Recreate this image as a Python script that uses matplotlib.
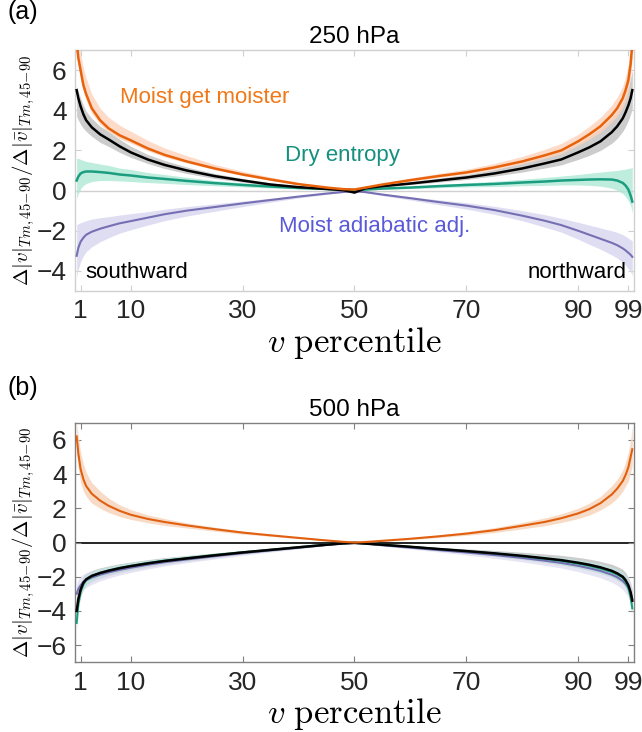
import numpy as np
import matplotlib
matplotlib.use("Agg")
import matplotlib.pyplot as plt

plt.rcParams['font.family'] = ['Liberation Sans', 'DejaVu Sans']
plt.rcParams['mathtext.fontset'] = 'cm'

# percentile grid shared by every curve
pct = [0.3, 0.6, 1, 1.5, 2, 3, 4.5, 6, 8, 10, 13, 16, 20, 25, 30, 35, 40, 45, 48, 50,
       52, 55, 60, 65, 70, 75, 80, 84, 87, 90, 92, 94, 96, 97, 98, 98.5, 99, 99.4, 99.7]

# ---- (a) 250 hPa ----
a_moist = [7.4, 6.6, 6.0, 5.25, 4.8, 4.1, 3.5, 3.1, 2.75, 2.5, 2.1, 1.78, 1.45, 1.1, 0.8, 0.55, 0.32, 0.15, 0.07, 0.05,
           0.15, 0.3, 0.52, 0.72, 0.9, 1.15, 1.45, 1.75, 2.0, 2.45, 2.8, 3.2, 3.75, 4.1, 4.6, 5.0, 5.5, 6.3, 7.3]
a_moist_hi = [8.0, 7.4, 6.8, 6.1, 5.6, 4.8, 4.1, 3.65, 3.25, 2.95, 2.5, 2.12, 1.74, 1.3, 0.96, 0.67, 0.4, 0.2, 0.11, 0.08,
              0.19, 0.36, 0.62, 0.85, 1.06, 1.35, 1.7, 2.05, 2.35, 2.8, 3.2, 3.65, 4.25, 4.65, 5.2, 5.7, 6.3, 7.2, 8.2]
a_moist_lo = [7.0, 6.2, 5.6, 4.95, 4.5, 3.85, 3.3, 2.92, 2.58, 2.35, 1.98, 1.68, 1.37, 1.04, 0.75, 0.51, 0.29, 0.13, 0.05, 0.03,
              0.12, 0.26, 0.46, 0.65, 0.82, 1.05, 1.33, 1.6, 1.84, 2.25, 2.55, 2.9, 3.4, 3.7, 4.15, 4.5, 4.95, 5.7, 6.6]

a_total = [5.0, 4.6, 4.2, 3.8, 3.5, 3.15, 2.8, 2.55, 2.2, 1.9, 1.55, 1.28, 1.0, 0.72, 0.5, 0.3, 0.17, 0.08, 0.02, -0.1,
           0.12, 0.22, 0.35, 0.5, 0.65, 0.85, 1.1, 1.35, 1.55, 1.9, 2.15, 2.45, 2.9, 3.2, 3.6, 3.9, 4.25, 4.6, 5.0]
a_total_hi = [5.2, 4.9, 4.6, 4.25, 3.95, 3.6, 3.2, 2.95, 2.55, 2.2, 1.8, 1.5, 1.17, 0.85, 0.6, 0.38, 0.22, 0.1, 0.04, -0.07,
              0.15, 0.28, 0.44, 0.62, 0.8, 1.05, 1.37, 1.68, 1.95, 2.35, 2.7, 3.1, 3.6, 3.95, 4.4, 4.75, 5.15, 5.6, 6.0]
a_total_lo = [3.7, 3.5, 3.3, 3.1, 2.95, 2.7, 2.4, 2.2, 1.9, 1.65, 1.35, 1.1, 0.85, 0.6, 0.42, 0.24, 0.13, 0.06, 0.0, -0.13,
              0.09, 0.18, 0.3, 0.42, 0.55, 0.72, 0.92, 1.12, 1.28, 1.55, 1.75, 2.0, 2.35, 2.6, 2.95, 3.2, 3.5, 3.8, 4.1]

a_dry = [0.5, 0.7, 0.85, 0.92, 0.95, 0.95, 0.92, 0.88, 0.8, 0.75, 0.65, 0.58, 0.48, 0.37, 0.28, 0.2, 0.13, 0.08, 0.05, 0.03,
         0.05, 0.1, 0.15, 0.22, 0.28, 0.33, 0.4, 0.45, 0.5, 0.53, 0.55, 0.56, 0.55, 0.5, 0.38, 0.25, 0.05, -0.25, -0.55]
a_dry_hi = [1.6, 1.6, 1.55, 1.5, 1.45, 1.4, 1.32, 1.25, 1.12, 1.05, 0.9, 0.8, 0.66, 0.5, 0.38, 0.27, 0.18, 0.11, 0.07, 0.05,
            0.07, 0.13, 0.2, 0.3, 0.38, 0.46, 0.56, 0.65, 0.72, 0.8, 0.86, 0.92, 0.98, 1.0, 1.05, 1.07, 1.1, 1.12, 1.15]
a_dry_lo = [-0.4, -0.15, 0.1, 0.25, 0.35, 0.45, 0.5, 0.5, 0.48, 0.45, 0.4, 0.36, 0.3, 0.24, 0.18, 0.13, 0.08, 0.05, 0.03, 0.01,
            0.03, 0.07, 0.1, 0.14, 0.18, 0.2, 0.24, 0.26, 0.28, 0.28, 0.26, 0.22, 0.12, 0.02, -0.15, -0.3, -0.5, -0.75, -1.1]

a_adj = [-3.25, -2.85, -2.55, -2.35, -2.2, -2.05, -1.9, -1.78, -1.63, -1.52, -1.35, -1.18, -1.0, -0.82, -0.64, -0.47, -0.3, -0.15, -0.07, -0.03,
         -0.08, -0.2, -0.38, -0.57, -0.75, -0.97, -1.25, -1.5, -1.72, -2.0, -2.2, -2.4, -2.6, -2.72, -2.88, -2.98, -3.1, -3.2, -3.3]
a_adj_hi = [-1.7, -1.65, -1.6, -1.55, -1.5, -1.42, -1.35, -1.3, -1.22, -1.15, -1.05, -0.93, -0.8, -0.66, -0.52, -0.38, -0.24, -0.12, -0.05, -0.02,
            -0.06, -0.16, -0.3, -0.46, -0.6, -0.78, -1.0, -1.2, -1.38, -1.58, -1.72, -1.86, -2.0, -2.08, -2.2, -2.28, -2.38, -2.45, -2.5]
a_adj_lo = [-4.3, -3.9, -3.55, -3.25, -3.05, -2.8, -2.55, -2.35, -2.12, -1.95, -1.72, -1.5, -1.27, -1.03, -0.8, -0.58, -0.37, -0.19, -0.09, -0.04,
            -0.1, -0.25, -0.47, -0.7, -0.92, -1.18, -1.5, -1.82, -2.07, -2.42, -2.68, -2.92, -3.2, -3.36, -3.58, -3.72, -3.9, -4.05, -4.25]

# ---- (b) 500 hPa ----
b_moist = [6.2, 5.2, 4.3, 3.7, 3.3, 2.85, 2.45, 2.15, 1.85, 1.62, 1.38, 1.2, 1.0, 0.78, 0.58, 0.42, 0.27, 0.12, 0.04, 0.0,
           0.03, 0.1, 0.22, 0.36, 0.52, 0.72, 0.98, 1.2, 1.42, 1.7, 1.95, 2.3, 2.8, 3.15, 3.6, 3.95, 4.4, 5.0, 5.45]
b_moist_hi = [7.0, 6.2, 5.3, 4.6, 4.1, 3.5, 3.0, 2.6, 2.2, 1.92, 1.62, 1.4, 1.15, 0.9, 0.67, 0.48, 0.31, 0.14, 0.05, 0.01,
              0.05, 0.13, 0.27, 0.44, 0.63, 0.87, 1.17, 1.43, 1.68, 2.0, 2.3, 2.7, 3.3, 3.7, 4.25, 4.7, 5.3, 6.0, 6.8]
b_moist_lo = [5.2, 4.3, 3.5, 3.0, 2.7, 2.3, 2.0, 1.75, 1.52, 1.35, 1.15, 1.0, 0.85, 0.66, 0.49, 0.36, 0.23, 0.1, 0.03, -0.01,
              0.01, 0.07, 0.17, 0.29, 0.42, 0.58, 0.8, 0.98, 1.17, 1.4, 1.6, 1.9, 2.3, 2.6, 3.0, 3.3, 3.6, 4.1, 4.5]

b_total = [-4.0, -3.3, -2.75, -2.35, -2.15, -1.95, -1.78, -1.65, -1.5, -1.38, -1.22, -1.08, -0.93, -0.75, -0.58, -0.43, -0.28, -0.13, -0.05, -0.02,
           -0.06, -0.13, -0.25, -0.38, -0.5, -0.63, -0.78, -0.92, -1.03, -1.18, -1.3, -1.45, -1.65, -1.8, -2.0, -2.2, -2.5, -2.9, -3.4]
b_total_sd = [0.5, 0.45, 0.4, 0.38, 0.35, 0.32, 0.3, 0.28, 0.26, 0.24, 0.22, 0.2, 0.17, 0.14, 0.11, 0.08, 0.06, 0.03, 0.02, 0.01,
              0.02, 0.04, 0.07, 0.1, 0.13, 0.17, 0.21, 0.25, 0.28, 0.31, 0.33, 0.35, 0.38, 0.4, 0.42, 0.44, 0.46, 0.5, 0.55]

b_dry = [-4.7, -3.6, -2.9, -2.45, -2.2, -1.96, -1.77, -1.63, -1.48, -1.36, -1.2, -1.06, -0.91, -0.73, -0.57, -0.42, -0.27, -0.12, -0.05, -0.02,
         -0.06, -0.13, -0.25, -0.38, -0.5, -0.64, -0.8, -0.95, -1.07, -1.23, -1.36, -1.52, -1.72, -1.87, -2.05, -2.3, -2.65, -3.2, -3.85]
b_dry_sd = [0.4, 0.36, 0.32, 0.3, 0.28, 0.26, 0.24, 0.22, 0.2, 0.19, 0.17, 0.15, 0.13, 0.11, 0.09, 0.07, 0.05, 0.03, 0.02, 0.01,
            0.02, 0.03, 0.05, 0.08, 0.1, 0.13, 0.16, 0.19, 0.21, 0.24, 0.26, 0.28, 0.3, 0.32, 0.34, 0.36, 0.38, 0.4, 0.45]

b_adj = [-3.0, -2.7, -2.5, -2.3, -2.2, -2.05, -1.88, -1.75, -1.6, -1.47, -1.3, -1.15, -0.99, -0.8, -0.62, -0.46, -0.3, -0.14, -0.06, -0.03,
         -0.07, -0.16, -0.3, -0.44, -0.58, -0.73, -0.9, -1.06, -1.19, -1.36, -1.5, -1.66, -1.88, -2.03, -2.25, -2.42, -2.65, -2.95, -3.3]
b_adj_sd = [0.6, 0.55, 0.5, 0.46, 0.43, 0.4, 0.36, 0.33, 0.3, 0.28, 0.25, 0.22, 0.19, 0.16, 0.13, 0.1, 0.07, 0.04, 0.02, 0.01,
            0.02, 0.05, 0.08, 0.11, 0.15, 0.19, 0.23, 0.27, 0.3, 0.34, 0.37, 0.4, 0.44, 0.47, 0.5, 0.53, 0.56, 0.6, 0.65]

xticks = [1, 10, 30, 50, 70, 90, 99]
orange, teal, purple = '#e8620c', '#1b9e80', '#7570b3'
ylab = r'$\Delta|v|_{Tm,45\!-\!90}/\Delta|\bar{v}|_{Tm,45\!-\!90}$'
xlab = r'$v\ \mathrm{percentile}$'

fig = plt.figure(figsize=(6.42, 7.32), dpi=100)
ax1 = fig.add_axes([0.1168, 0.6025, 0.8707, 0.3292])
ax2 = fig.add_axes([0.1168, 0.0952, 0.8707, 0.3273])

# panel (a)
ax1.axhline(0, color='#d0d0d0', lw=1, zorder=1)
ax1.fill_between(pct, a_total_lo, a_total_hi, color='#cccccc', lw=0, zorder=2)
ax1.fill_between(pct, a_moist_lo, a_moist_hi, color='#fdd3bb', alpha=0.8, lw=0, zorder=2)
ax1.fill_between(pct, a_dry_lo, a_dry_hi, color='#aee8d5', alpha=0.8, lw=0, zorder=2)
ax1.fill_between(pct, a_adj_lo, a_adj_hi, color='#dcdaf0', alpha=0.9, lw=0, zorder=2)
ax1.plot(pct, a_adj, color=purple, lw=1.5, zorder=3)
ax1.plot(pct, a_dry, color=teal, lw=1.8, zorder=3)
ax1.plot(pct, a_total, color='black', lw=1.8, zorder=4)
ax1.plot(pct, a_moist, color=orange, lw=1.8, zorder=4)
ax1.set_ylim(-5, 7)
ax1.set_yticks([-4, -2, 0, 2, 4, 6])
ax1.text(8, 4.65, 'Moist get moister', color='#f07818', fontsize=16, va='center')
ax1.text(37.5, 1.75, 'Dry entropy', color='#15907e', fontsize=16, va='center')
ax1.text(36.5, -1.8, 'Moist adiabatic adj.', color='#5a5ad8', fontsize=16, va='center')
ax1.text(1.8, -4.1, 'southward', color='black', fontsize=16, va='center')
ax1.text(98.7, -4.1, 'northward', color='black', fontsize=16, va='center', ha='right')
ax1.set_title('250 hPa', fontsize=17.5, pad=5)
fig.text(0.012, 0.983, '(a)', fontsize=18, va='center')

# panel (b)
ax2.axhline(0, color='black', lw=1.2, zorder=1)
ax2.fill_between(pct, np.array(b_total) - b_total_sd, np.array(b_total) + b_total_sd, color='#cccccc', lw=0, zorder=2)
ax2.fill_between(pct, np.array(b_adj) - b_adj_sd, np.array(b_adj) + b_adj_sd, color='#dcdaf0', alpha=0.7, lw=0, zorder=2)
ax2.fill_between(pct, np.array(b_dry) - b_dry_sd, np.array(b_dry) + b_dry_sd, color='#b5ead8', alpha=0.5, lw=0, zorder=2)
ax2.fill_between(pct, b_moist_lo, b_moist_hi, color='#f8d8c0', alpha=0.9, lw=0, zorder=2)
ax2.plot(pct, b_adj, color=purple, lw=1.5, zorder=3)
ax2.plot(pct, b_dry, color=teal, lw=1.5, zorder=3)
ax2.plot(pct, b_total, color='black', lw=1.8, zorder=4)
ax2.plot(pct, b_moist, color='#e06010', lw=1.5, zorder=4)
ax2.set_ylim(-7, 7)
ax2.set_yticks([-6, -4, -2, 0, 2, 4, 6])
ax2.set_title('500 hPa', fontsize=17.5, pad=5)
fig.text(0.012, 0.47, '(b)', fontsize=18, va='center')

for ax, spc in [(ax1, '#d0d0d0'), (ax2, '#808080')]:
    ax.set_xlim(0, 100)
    ax.set_xticks(xticks)
    ax.tick_params(direction='in', length=4, width=0.8, color=spc, labelsize=19,
                   labelcolor='#262626', top=True, right=True, pad=6)
    for s in ax.spines.values():
        s.set_color(spc)
        s.set_linewidth(1.0)
    ax.set_xlabel(xlab, fontsize=25, labelpad=1)
    ax.set_ylabel(ylab, fontsize=15)
    ax.yaxis.set_label_coords(-0.068, 0.5)

fig.savefig('out.png', dpi=100)
